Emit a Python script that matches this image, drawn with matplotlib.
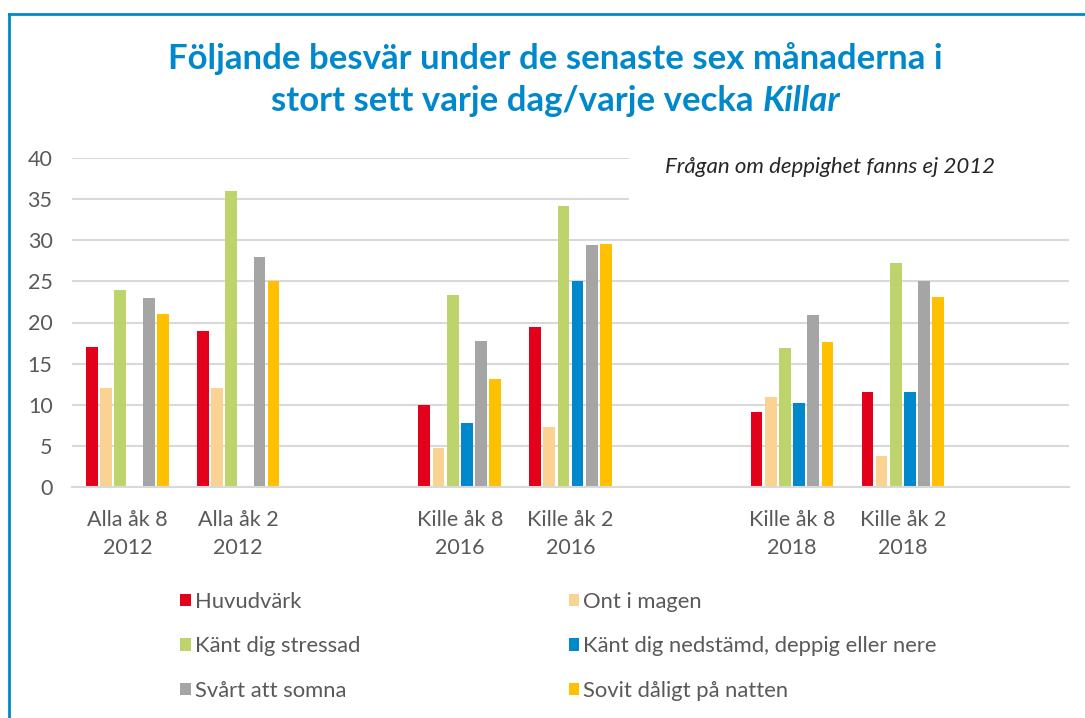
"""Besvär under de senaste sex månaderna, killar - grouped bars."""

import numpy as np
import matplotlib
matplotlib.use('Agg')
import matplotlib.pyplot as plt
from matplotlib.patches import Rectangle
from matplotlib.lines import Line2D

plt.rcParams['font.family'] = ['Lato', 'DejaVu Sans']

# Categories (empty ones are spacer slots in the original chart)
categories = ['Alla åk 8\n2012', 'Alla åk 2\n2012', '',
              'Kille åk 8\n2016', 'Kille åk 2\n2016', '',
              'Kille åk 8\n2018', 'Kille åk 2\n2018', '']

series_names = ['Huvudvärk', 'Ont i magen', 'Känt dig stressad',
                'Känt dig nedstämd, deppig eller nere', 'Svårt att somna',
                'Sovit dåligt på natten']
series_colors = ['#E2001A', '#FAD291', '#BDD36B', '#0088CC', '#A5A5A5', '#FFC000']

nan = np.nan
huvudvark = [17, 19, nan, 10.0, 19.5, nan, 9.1, 11.5, nan]
ont_i_magen = [12, 12, nan, 4.7, 7.3, nan, 10.9, 3.7, nan]
stressad = [24, 36, nan, 23.3, 34.2, nan, 16.9, 27.3, nan]
nedstamd = [nan, nan, nan, 7.8, 25.0, nan, 10.2, 11.5, nan]
somna = [23, 28, nan, 17.7, 29.5, nan, 20.9, 25.0, nan]
sovit = [21, 25, nan, 13.1, 29.6, nan, 17.6, 23.1, nan]
values = [huvudvark, ont_i_magen, stressad, nedstamd, somna, sovit]

yticks = [0, 5, 10, 15, 20, 25, 30, 35, 40]

fig = plt.figure(figsize=(10.85, 7.18), dpi=100)
ax = fig.add_axes([72 / 1085, 231.3 / 718, 997 / 1085, 328.4 / 718])

x = np.arange(len(categories))
slot = 0.128
width = 0.106
for i, (vals, col) in enumerate(zip(values, series_colors)):
    ax.bar(x + (i - 2.5) * slot, vals, width=width, color=col, zorder=2,
           label=series_names[i])

ax.set_xlim(-0.5, len(categories) - 0.5)
ax.set_ylim(0, 40)
ax.set_yticks(yticks)
ax.set_xticks(x)
ax.set_xticklabels(categories, fontsize=15.5, color='#595959', linespacing=1.45)
ax.tick_params(axis='y', labelsize=15.5, labelcolor='#595959', length=0, pad=14)
ax.tick_params(axis='x', length=0, pad=17)
ax.yaxis.grid(True, color='#D9D9D9', linewidth=1.5, zorder=0)
ax.set_axisbelow(True)
for s in ['top', 'right', 'left']:
    ax.spines[s].set_visible(False)
ax.spines['bottom'].set_color('#D9D9D9')
ax.spines['bottom'].set_linewidth(1.5)

# White note box covering the top gridlines on the right
note_tr = matplotlib.transforms.blended_transform_factory(ax.transAxes, ax.transData)
ax.add_patch(Rectangle((0.5587, 31.5), 0.45, 10, transform=note_tr,
                       facecolor='white', edgecolor='none', zorder=1, clip_on=False))
fig.text(0.917, 0.768, 'Frågan om deppighet fanns ej 2012', ha='right', va='center',
         fontsize=16, style='italic', color='#262626')

# Title (second line ends with italic "Killar")
fig.text(0.512, 0.918, 'Följande besvär under de senaste sex månaderna i',
         ha='center', va='center', fontsize=25, fontweight='bold', color='#0088CC')
t1 = fig.text(0.0, 0.860, 'stort sett varje dag/varje vecka ', ha='left',
              va='center', fontsize=25, fontweight='bold', color='#0088CC')
t2 = fig.text(0.0, 0.860, 'Killar', ha='left', va='center', fontsize=25,
              fontweight='bold', style='italic', color='#0088CC')
fig.canvas.draw()
w1 = t1.get_window_extent().width
w2 = t2.get_window_extent().width
x0 = 0.512 * 1085 - (w1 + w2) / 2
t1.set_x(x0 / 1085)
t2.set_x((x0 + w1) / 1085)

# Legend: rows filled left-to-right
handles, labels = ax.get_legend_handles_labels()
order = [0, 2, 4, 1, 3, 5]
leg = fig.legend([handles[k] for k in order], [labels[k] for k in order],
                 ncol=2, loc='upper left', bbox_to_anchor=(160 / 1085, 1 - 572 / 718),
                 frameon=False, fontsize=15.8, handlelength=0.5, handleheight=0.5,
                 handletextpad=0.18, labelspacing=1.12, columnspacing=9.5)
for t in leg.get_texts():
    t.set_color('#595959')

# Outer blue frame (top and left edges visible)
fig.add_artist(Line2D([8.5 / 1085, 1.0], [1 - 13.5 / 718, 1 - 13.5 / 718],
                      transform=fig.transFigure, color='#0088CC', linewidth=2))
fig.add_artist(Line2D([8.5 / 1085, 8.5 / 1085], [0, 1 - 13.5 / 718],
                      transform=fig.transFigure, color='#0088CC', linewidth=2))

fig.savefig('out.png', dpi=100, facecolor='white')
